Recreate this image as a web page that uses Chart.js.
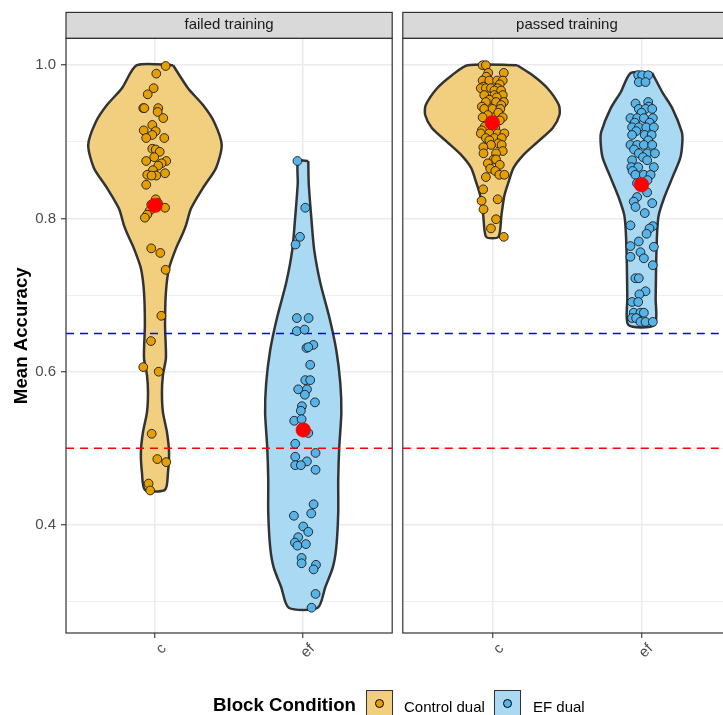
<!DOCTYPE html>
<html>
<head>
<meta charset="utf-8">
<script src="https://cdn.jsdelivr.net/npm/chart.js@4.4.1/dist/chart.umd.min.js"></script>
<style>
  html, body { margin: 0; padding: 0; background: #fff; }
  body { width: 723px; height: 715px; overflow: hidden; position: relative;
         font-family: "Liberation Sans", Arial, sans-serif; }
  #leftPanel { position: absolute; left: 0; top: 0; }
  /* Chart.js keeps ~8px on the left for the rotated tick labels, so the canvas starts that much earlier */
  #rightPanel { position: absolute; left: 395px; top: 0; }
  .lg { position: absolute; white-space: nowrap; line-height: 1; }
  .lg-title { left: 213px; top: 696px; font-size: 18.67px; font-weight: bold; color: #000; }
  .lg-text { top: 699px; font-size: 15px; color: #000; }
  .lg-key { position: absolute; top: 690px; width: 27px; height: 27px; box-sizing: border-box;
            border: 1.6px solid #333; }
  .lg-key i { position: absolute; left: 50%; top: 50%; width: 9px; height: 9px; margin: -4.5px 0 0 -4.5px;
              border-radius: 50%; box-sizing: border-box; border: 0.9px solid #000; }
</style>
</head>
<body>
<canvas id="leftPanel" width="400" height="715"></canvas>
<canvas id="rightPanel" width="348" height="715"></canvas>

<div class="lg lg-title">Block Condition</div>
<div class="lg-key" style="left:366px; background:#f2cf7f;"><i style="background:#E69F00;"></i></div>
<div class="lg lg-text" style="left:404px;">Control dual</div>
<div class="lg-key" style="left:494px; background:#aad9f4;"><i style="background:#56B4E9;"></i></div>
<div class="lg lg-text" style="left:533px;">EF dual</div>

<script>
const FONT = '"Liberation Sans", Arial, sans-serif';

// --- data ---
const panels = ["failed training", "passed training"];
const categories = ["c", "ef"];
const yMajorTicks = [0.4, 0.6, 0.8, 1.0];
const yMinorTicks = [0.3, 0.5, 0.7, 0.9];
const yRange = [0.259, 1.035];
const xRange = [0.4, 2.6];
const refLines = [0.65, 0.5];

const failedMeans = [0.817, 0.524];
const passedMeans = [0.925, 0.844];

// violin outlines: accuracy level and half width (in category units)
const failedCtrlViolinY = [1.000, 0.970, 0.948, 0.926, 0.896, 0.866, 0.840, 0.813, 0.791, 0.778, 0.761, 0.735,
  0.704, 0.661, 0.618, 0.596, 0.573, 0.547, 0.521, 0.495, 0.469, 0.446];
const failedCtrlViolinW = [0.122, 0.223, 0.324, 0.399, 0.450, 0.412, 0.324, 0.243, 0.209, 0.182, 0.142, 0.095,
  0.074, 0.068, 0.074, 0.054, 0.047, 0.054, 0.081, 0.095, 0.088, 0.068];
const failedEfViolinY = [0.875, 0.846, 0.802, 0.759, 0.716, 0.671, 0.628, 0.585, 0.546, 0.502, 0.459, 0.416,
  0.371, 0.345, 0.319, 0.292];
const failedEfViolinW = [0.034, 0.037, 0.054, 0.074, 0.115, 0.176, 0.223, 0.250, 0.257, 0.243, 0.236, 0.236,
  0.223, 0.200, 0.149, 0.098];
const passedCtrlViolinY = [1.000, 0.987, 0.970, 0.948, 0.935, 0.918, 0.900, 0.883, 0.866, 0.847, 0.830, 0.804, 0.776];
const passedCtrlViolinW = [0.166, 0.270, 0.370, 0.446, 0.450, 0.405, 0.304, 0.209, 0.142, 0.108, 0.081, 0.061, 0.041];
const passedEfViolinY = [0.990, 0.965, 0.944, 0.913, 0.900, 0.879, 0.853, 0.827, 0.804, 0.782, 0.739, 0.696, 0.661];
const passedEfViolinW = [0.071, 0.139, 0.206, 0.270, 0.274, 0.260, 0.206, 0.152, 0.115, 0.105, 0.098, 0.095, 0.088];

// individual participants: accuracy and horizontal jitter (category units)
const failedCtrlY = [0.999, 0.989, 0.970, 0.962, 0.944, 0.944, 0.944, 0.939, 0.931, 0.922, 0.915, 0.914, 0.909,
  0.905, 0.905, 0.891, 0.890, 0.887, 0.880, 0.875, 0.875, 0.872, 0.869, 0.863, 0.857, 0.856, 0.859, 0.856, 0.844,
  0.825, 0.820, 0.818, 0.814, 0.810, 0.805, 0.801, 0.761, 0.755, 0.733, 0.673, 0.640, 0.606, 0.600, 0.519, 0.486,
  0.482, 0.454, 0.445];
const failedCtrlJitter = [0.072, 0.009, -0.009, -0.049, -0.079, -0.072, 0.022, 0.018, 0.056, -0.018, -0.076, 0.005,
  -0.018, -0.059, 0.063, -0.018, 0.005, 0.032, -0.005, -0.059, 0.076, 0.045, 0.022, -0.014, -0.052, 0.009, 0.068,
  -0.023, -0.059, 0.005, 0.020, -0.025, 0.068, -0.036, -0.052, -0.068, -0.025, 0.036, 0.072, 0.043, -0.027, -0.079,
  0.025, -0.022, 0.016, 0.076, -0.043, -0.032];

const failedEfY = [0.875, 0.814, 0.776, 0.766, 0.670, 0.670, 0.653, 0.655, 0.635, 0.631, 0.632, 0.609, 0.589,
  0.589, 0.577, 0.577, 0.570, 0.560, 0.555, 0.549, 0.536, 0.538, 0.520, 0.506, 0.494, 0.489, 0.483, 0.478, 0.478,
  0.472, 0.427, 0.412, 0.415, 0.398, 0.391, 0.384, 0.377, 0.373, 0.375, 0.357, 0.350, 0.348, 0.342, 0.310, 0.292];
const failedEfJitter = [-0.039, 0.014, -0.022, -0.052, -0.043, 0.036, -0.043, 0.009, 0.068, 0.022, 0.034, 0.047,
  0.014, 0.047, -0.034, 0.025, 0.011, 0.079, -0.009, -0.016, -0.061, -0.011, 0.034, -0.054, 0.083, -0.054, 0.025,
  -0.054, -0.016, 0.083, 0.070, -0.063, 0.054, 0.000, 0.034, -0.034, -0.056, -0.039, 0.018, -0.011, -0.011, 0.086,
  0.070, 0.083, 0.056];

const passedCtrlY = [1.000, 1.000, 0.990, 0.990, 0.985, 0.980, 0.980, 0.980, 0.980, 0.975, 0.972, 0.970, 0.970,
  0.970, 0.970, 0.967, 0.967, 0.961, 0.961, 0.961, 0.958, 0.955, 0.952, 0.952, 0.952, 0.948, 0.946, 0.943, 0.943,
  0.943, 0.938, 0.935, 0.932, 0.932, 0.928, 0.920, 0.918, 0.915, 0.911, 0.911, 0.911, 0.911, 0.905, 0.905, 0.905,
  0.902, 0.898, 0.896, 0.896, 0.893, 0.888, 0.885, 0.885, 0.877, 0.877, 0.872, 0.870, 0.865, 0.862, 0.857, 0.857,
  0.854, 0.838, 0.825, 0.823, 0.812, 0.799, 0.787, 0.776];
const passedCtrlJitter = [-0.065, -0.043, -0.027, 0.077, -0.040, -0.065, -0.020, 0.032, 0.070, 0.050, -0.060,
  -0.077, -0.043, -0.009, 0.036, 0.014, 0.059, -0.054, 0.014, 0.070, 0.030, -0.020, -0.043, 0.025, 0.077, 0.060,
  -0.070, -0.054, 0.002, 0.054, 0.040, -0.030, -0.065, 0.070, 0.050, -0.050, 0.020, -0.070, -0.077, -0.020, 0.036,
  0.081, -0.043, 0.014, 0.063, -0.020, 0.040, -0.009, 0.063, -0.060, 0.070, -0.059, 0.025, 0.009, 0.025, -0.030,
  0.050, -0.014, 0.020, 0.047, 0.081, -0.043, -0.061, 0.036, -0.072, -0.059, 0.025, -0.009, 0.077];

const passedEfY = [0.987, 0.987, 0.987, 0.978, 0.978, 0.952, 0.950, 0.946, 0.943, 0.943, 0.943, 0.938, 0.931,
  0.931, 0.931, 0.931, 0.925, 0.925, 0.919, 0.919, 0.919, 0.919, 0.914, 0.909, 0.909, 0.909, 0.902, 0.896, 0.896,
  0.896, 0.896, 0.890, 0.885, 0.885, 0.885, 0.880, 0.876, 0.876, 0.867, 0.867, 0.867, 0.862, 0.857, 0.857, 0.857,
  0.850, 0.846, 0.834, 0.828, 0.822, 0.820, 0.815, 0.807, 0.791, 0.790, 0.787, 0.780, 0.770, 0.764, 0.763, 0.756,
  0.750, 0.748, 0.739, 0.722, 0.722, 0.705, 0.701, 0.691, 0.691, 0.677, 0.677, 0.677, 0.670, 0.670, 0.665, 0.665,
  0.665];
const passedEfJitter = [-0.022, 0.005, 0.045, -0.018, 0.027, 0.045, -0.040, 0.049, -0.018, 0.027, 0.072, 0.000,
  -0.074, -0.029, 0.016, 0.076, -0.045, 0.055, -0.063, -0.018, 0.032, 0.083, -0.035, -0.063, 0.022, 0.068, 0.045,
  -0.074, -0.029, 0.016, 0.072, -0.050, -0.018, 0.038, 0.090, 0.010, -0.063, 0.038, -0.068, -0.022, 0.083, -0.060,
  -0.041, 0.016, 0.061, 0.040, -0.030, 0.038, -0.029, -0.052, 0.072, -0.040, 0.022, -0.074, 0.076, 0.054, 0.034,
  -0.018, -0.074, 0.083, -0.007, -0.074, 0.016, 0.076, -0.041, -0.018, 0.027, -0.014, -0.063, -0.022, -0.052,
  -0.007, 0.016, -0.063, -0.036, -0.007, 0.027, 0.076];

// --- styling ---
const ctrlFill = "#f2cf7f";
const efFill = "#aad9f4";
const ctrlPoint = "#E69F00";
const efPoint = "#56B4E9";
const refColors = ["#0000ff", "#ff0000"];

function violinOutline(pos, ys, ws) {
  const right = ys.map((y, i) => ({ x: pos + ws[i], y }));
  const left = ys.map((y, i) => ({ x: pos - ws[i], y })).reverse();
  return [...right, ...left, right[0]];
}

function jitterPoints(pos, ys, jit) {
  return ys.map((y, i) => ({ x: pos + jit[i], y }));
}

function violinDataset(pos, ys, ws, fill) {
  return {
    type: "line",
    data: violinOutline(pos, ys, ws),
    borderColor: "#333333",
    borderWidth: 2.5,
    backgroundColor: fill,
    fill: "shape",
    tension: 0.25,
    pointRadius: 0,
    order: 4,
  };
}

function pointDataset(pos, ys, jit, color) {
  return {
    type: "scatter",
    data: jitterPoints(pos, ys, jit),
    pointRadius: 4.4,
    pointBackgroundColor: color,
    pointBorderColor: "#1a1a1a",
    pointBorderWidth: 0.9,
    order: 2,
  };
}

function refDatasets() {
  return refLines.map((v, i) => ({
    type: "line",
    data: [{ x: xRange[0], y: v }, { x: xRange[1], y: v }],
    borderColor: refColors[i],
    borderWidth: 1.5,
    borderDash: [8, 6],
    pointRadius: 0,
    order: 3,
  }));
}

function meanDataset(means) {
  return {
    type: "scatter",
    data: means.map((m, i) => ({ x: i + 1, y: m })),
    pointRadius: 7.3,
    pointBackgroundColor: "#ff0000",
    pointBorderColor: "#e00000",
    pointBorderWidth: 0.5,
    order: 1,
  };
}

// strip on top of each panel and the dark panel border
const panelFrame = {
  id: "panelFrame",
  beforeDraw(chart) {
    const { ctx, chartArea: ca } = chart;
    ctx.save();
    ctx.fillStyle = "#d9d9d9";
    ctx.fillRect(ca.left, ca.top - 26, ca.width, 26);
    ctx.strokeStyle = "#333";
    ctx.lineWidth = 1.2;
    ctx.strokeRect(ca.left, ca.top - 26, ca.width, 26);
    ctx.restore();
  },
  afterDraw(chart) {
    const { ctx, chartArea: ca } = chart;
    ctx.save();
    ctx.strokeStyle = "#333";
    ctx.lineWidth = 1.2;
    ctx.strokeRect(ca.left, ca.top, ca.width, ca.height);
    ctx.restore();
  },
};

const isMajor = (v) => yMajorTicks.includes(v);

function buildPanel(canvasId, title, datasets, showY) {
  return new Chart(document.getElementById(canvasId), {
    type: "scatter",
    data: { datasets },
    options: {
      responsive: false,
      animation: false,
      events: [],
      layout: { padding: { top: 12, left: 0, right: showY ? 6 : 12, bottom: 0 } },
      plugins: {
        legend: { display: false },
        tooltip: { enabled: false },
        title: {
          display: true,
          text: title,
          fullSize: false,
          color: "#1a1a1a",
          font: { size: 15, family: FONT, weight: "normal" },
          padding: { top: 4, bottom: 4.4 },
        },
      },
      scales: {
        x: {
          type: "linear",
          min: xRange[0],
          max: xRange[1],
          afterBuildTicks: (s) => { s.ticks = categories.map((c, i) => ({ value: i + 1 })); },
          afterFit: (s) => { s.height = 82; },
          ticks: {
            callback: (v) => categories[v - 1] ?? "",
            minRotation: 45,
            maxRotation: 45,
            color: "#4d4d4d",
            font: { size: 15, family: FONT },
            padding: 2,
            labelOffset: 9,
          },
          grid: { color: "#ebebeb", lineWidth: 1.5, tickColor: "#333", tickLength: 5, tickWidth: 1.1 },
          border: { display: false },
        },
        y: {
          type: "linear",
          min: yRange[0],
          max: yRange[1],
          afterBuildTicks: (s) => {
            s.ticks = [...yMinorTicks, ...yMajorTicks].sort((a, b) => a - b).map((v) => ({ value: v }));
          },
          afterFit: (s) => { s.width = showY ? 66 : 0; },
          ticks: {
            display: showY,
            callback: (v) => (isMajor(v) ? v.toFixed(1) : ""),
            color: "#4d4d4d",
            font: { size: 15, family: FONT },
            padding: 5,
          },
          grid: {
            color: "#ebebeb",
            lineWidth: (c) => (c.tick && isMajor(c.tick.value) ? 1.5 : 0.8),
            tickColor: (c) => (c.tick && isMajor(c.tick.value) ? "#333" : "rgba(0,0,0,0)"),
            tickLength: 5,
            tickWidth: 1.1,
            drawTicks: showY,
          },
          border: { display: false },
          title: {
            display: showY,
            text: "Mean Accuracy",
            color: "#000",
            font: { size: 18.67, family: FONT, weight: "bold" },
            padding: { top: 11, bottom: 0 },
          },
        },
      },
    },
    plugins: [panelFrame],
  });
}

buildPanel("leftPanel", panels[0], [
  violinDataset(1, failedCtrlViolinY, failedCtrlViolinW, ctrlFill),
  violinDataset(2, failedEfViolinY, failedEfViolinW, efFill),
  ...refDatasets(),
  pointDataset(1, failedCtrlY, failedCtrlJitter, ctrlPoint),
  pointDataset(2, failedEfY, failedEfJitter, efPoint),
  meanDataset(failedMeans),
], true);

buildPanel("rightPanel", panels[1], [
  violinDataset(1, passedCtrlViolinY, passedCtrlViolinW, ctrlFill),
  violinDataset(2, passedEfViolinY, passedEfViolinW, efFill),
  ...refDatasets(),
  pointDataset(1, passedCtrlY, passedCtrlJitter, ctrlPoint),
  pointDataset(2, passedEfY, passedEfJitter, efPoint),
  meanDataset(passedMeans),
], false);
</script>
</body>
</html>
